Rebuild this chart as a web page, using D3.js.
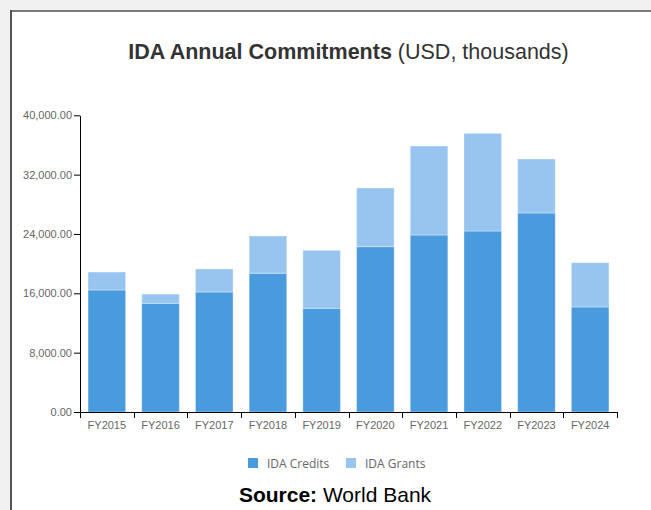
<!DOCTYPE html>
<html>
<head>
<meta charset="utf-8">
<script src="https://cdn.jsdelivr.net/npm/d3@7"></script>
<style>
  html, body { margin: 0; padding: 0; background: #f1f1f1; }
  svg { display: block; }
</style>
</head>
<body>
<svg id="chart" width="651" height="510"></svg>
<script>
const categories = ["FY2015","FY2016","FY2017","FY2018","FY2019","FY2020","FY2021","FY2022","FY2023","FY2024"];
const credits = [16450, 14650, 16180, 18700, 13980, 22290, 23860, 24400, 26830, 14160];
const grants  = [2420, 1250, 3100, 5030, 7820, 7910, 12000, 13170, 7280, 5970];
const yTicks = [0, 8000, 16000, 24000, 32000, 40000];
const seriesNames = ["IDA Credits", "IDA Grants"];
const seriesColors = ["#4a9ade", "#97c5f0"];

(function () {
const svg = d3.select("#chart");
const W = 651, H = 510;

// panel
svg.append("rect").attr("x", 10).attr("y", 10).attr("width", W).attr("height", H).attr("fill", "#fff");
svg.append("line").attr("x1", 10).attr("x2", W).attr("y1", 11).attr("y2", 11).attr("stroke", "#7a7a7a").attr("stroke-width", 2);
svg.append("line").attr("x1", 11).attr("x2", 11).attr("y1", 10).attr("y2", H).attr("stroke", "#555").attr("stroke-width", 2);

const mLeft = 80, mRight = 617, mTop = 115.3, mBottom = 412;

const x = d3.scaleBand().domain(categories).range([mLeft, mRight]).paddingInner(0.3).paddingOuter(0.15);
const y = d3.scaleLinear().domain([0, 40000]).range([mBottom, mTop]);

const data = categories.map((c, i) => ({cat: c, credits: credits[i], grants: grants[i]}));
const stack = d3.stack().keys(["credits", "grants"])(data);

const g = svg.append("g");
stack.forEach((layer, li) => {
  g.selectAll(null).data(layer).enter().append("rect")
    .attr("x", d => x(d.data.cat))
    .attr("width", x.bandwidth())
    .attr("y", d => y(d[1]))
    .attr("height", d => y(d[0]) - y(d[1]))
    .attr("fill", seriesColors[li])
    .attr("stroke", "#fff")
    .attr("stroke-opacity", 0.35)
    .attr("stroke-width", 1);
});

// y axis
const yAxis = d3.axisLeft(y).tickValues(yTicks).tickSize(6).tickSizeOuter(0)
  .tickFormat(d3.format(",.2f"));
const yg = svg.append("g").attr("transform", `translate(${mLeft},0)`).call(yAxis);
yg.select(".domain").attr("stroke", "#000");
yg.selectAll(".tick line").attr("stroke", "#000");
yg.selectAll(".tick text").attr("font-family", "Liberation Sans, Arial, sans-serif")
  .attr("font-size", 11).attr("fill", "#666").attr("x", -8);

// x axis with ticks at band boundaries
const xb = d3.scaleLinear().domain([0, categories.length]).range([mLeft, mRight]);
const xg = svg.append("g");
xg.append("line").attr("x1", mLeft).attr("x2", mRight).attr("y1", mBottom + 0.5).attr("y2", mBottom + 0.5).attr("stroke", "#000");
xg.selectAll(null).data(d3.range(categories.length + 1)).enter().append("line")
  .attr("x1", d => Math.round(xb(d)) + 0.5).attr("x2", d => Math.round(xb(d)) + 0.5)
  .attr("y1", mBottom).attr("y2", mBottom + 6).attr("stroke", "#000");
xg.selectAll(null).data(categories).enter().append("text")
  .attr("x", d => x(d) + x.bandwidth() / 2)
  .attr("y", mBottom + 17)
  .attr("text-anchor", "middle")
  .attr("font-family", "Liberation Sans, Arial, sans-serif")
  .attr("font-size", 11).attr("fill", "#666")
  .text(d => d);

// title
const title = svg.append("text").attr("x", (mLeft + mRight) / 2).attr("y", 59)
  .attr("text-anchor", "middle").attr("font-family", "Liberation Sans, Arial, sans-serif")
  .attr("font-size", 21.5).attr("fill", "#333");
title.append("tspan").attr("font-weight", "bold").text("IDA Annual Commitments");
title.append("tspan").text(" (USD, thousands)");

// legend
const legendItems = [{name: seriesNames[0], color: seriesColors[0], x: 248}, {name: seriesNames[1], color: seriesColors[1], x: 346}];
const lg = svg.append("g");
legendItems.forEach(it => {
  lg.append("rect").attr("x", it.x).attr("y", 458).attr("width", 10).attr("height", 10).attr("fill", it.color);
  lg.append("text").attr("x", it.x + 19).attr("y", 467.5)
    .attr("font-family", "Open Sans, sans-serif").attr("font-size", 12).attr("fill", "#666")
    .text(it.name);
});

// source
const src = svg.append("text").attr("x", 335).attr("y", 502)
  .attr("text-anchor", "middle").attr("font-family", "Liberation Sans, Arial, sans-serif")
  .attr("font-size", 21).attr("fill", "#000");
src.append("tspan").attr("font-weight", "bold").text("Source:");
src.append("tspan").text(" World Bank");
})();
</script>
</body>
</html>
